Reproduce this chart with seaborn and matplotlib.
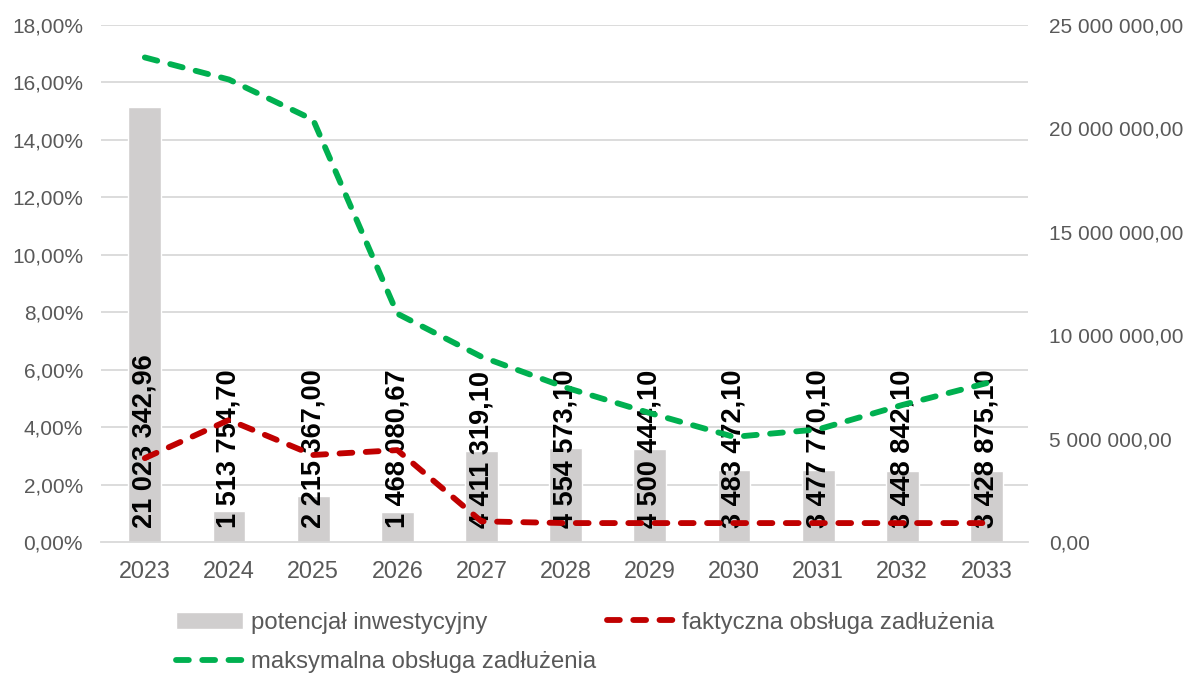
import matplotlib.pyplot as plt
import matplotlib.ticker as mticker
import pandas as pd
import seaborn as sns

years = ["2023", "2024", "2025", "2026", "2027", "2028", "2029", "2030", "2031", "2032", "2033"]
potencjal = [21023342.96, 1513754.70, 2215367.00, 1468080.67, 4411319.10, 4554573.10,
             4500444.10, 3483472.10, 3477770.10, 3448842.10, 3428875.10]
faktyczna = [2.92, 4.25, 3.03, 3.20, 0.72, 0.66, 0.66, 0.66, 0.66, 0.66, 0.66]
maksymalna = [16.87, 16.10, 14.70, 7.95, 6.45, 5.38, 4.49, 3.66, 3.92, 4.77, 5.53]

df = pd.DataFrame({"rok": years, "potencjal": potencjal,
                   "faktyczna": faktyczna, "maksymalna": maksymalna})

sns.set_style("white")
plt.rcParams["font.family"] = ["Liberation Sans", "DejaVu Sans"]

GRAY_TXT = "#595959"
GRID = "#d9d9d9"


def pl_money(v):
    s = f"{v:,.2f}"
    return s.replace(",", " ").replace(".", ",")


fig = plt.figure(figsize=(11.89, 6.75), dpi=100)
ax = fig.add_axes([0.085, 0.197, 0.78, 0.766])

# bars on primary axis (right-hand scale), lines on twin (left-hand scale)
sns.barplot(data=df, x="rok", y="potencjal", color="#d0cece", saturation=1,
            width=0.39, ax=ax, label="potencjał inwestycyjny", zorder=2)
ax.set_ylim(0, 25_000_000)
ax.yaxis.set_major_locator(mticker.MultipleLocator(5_000_000))
ax.yaxis.set_major_formatter(mticker.FuncFormatter(lambda v, p: pl_money(v)))
ax.set_xlabel("")
ax.set_ylabel("")

for i, v in enumerate(df["potencjal"]):
    ax.annotate(pl_money(v), (i, 0), xytext=(0, 10), textcoords="offset points",
                rotation=90, ha="center", va="bottom", fontsize=19.5,
                fontweight="bold", color="black", zorder=3)

ax2 = ax.twinx()
sns.lineplot(data=df, x="rok", y="faktyczna", ax=ax2, color="#c00000", lw=4.2,
             label="faktyczna obsługa zadłużenia", sort=False)
sns.lineplot(data=df, x="rok", y="maksymalna", ax=ax2, color="#00b050", lw=4.2,
             label="maksymalna obsługa zadłużenia", sort=False)
for ln in ax2.lines:
    ln.set_dashes([2.2, 2.3])
    ln.set_dash_capstyle("round")
ax2.set_ylim(0, 18)
ax2.yaxis.set_major_locator(mticker.MultipleLocator(2))
ax2.yaxis.set_major_formatter(
    mticker.FuncFormatter(lambda v, p: f"{v:.2f}%".replace(".", ",")))
ax2.set_ylabel("")
ax2.set_xlabel("")
ax2.get_legend().remove()

# swap sides: percent scale on the left, money scale on the right
ax.yaxis.tick_right()
ax2.yaxis.tick_left()

# grid on left scale
for g in range(2, 19, 2):
    ax.axhline(g / 18 * 25_000_000, color=GRID, lw=1.3, zorder=0)
ax.set_xlim(-0.52, 10.5)

for a in (ax, ax2):
    for s in a.spines.values():
        s.set_visible(False)
    a.tick_params(length=0, labelsize=15, labelcolor=GRAY_TXT)
ax.spines["bottom"].set_visible(True)
ax.spines["bottom"].set_color(GRID)
ax.spines["bottom"].set_linewidth(1.3)
ax.tick_params(axis="x", pad=13, labelsize=16.8)
ax.tick_params(axis="y", pad=15)
ax2.tick_params(axis="y", pad=13)

h1, l1 = ax.get_legend_handles_labels()
h2, l2 = ax2.get_legend_handles_labels()
# column-major fill -> row 1: bars, red line; row 2: green line
handles = [h1[0], h2[1], h2[0]]
labels = [l1[0], l2[1], l2[0]]
leg = fig.legend(handles, labels, ncol=2, loc="upper left",
                 bbox_to_anchor=(0.148, 0.094), frameon=False, fontsize=17.2,
                 borderpad=0, borderaxespad=0,
                 handlelength=2.8, handletextpad=0.35, columnspacing=0.45,
                 labelspacing=0.75, labelcolor=GRAY_TXT)
if ax.get_legend():
    ax.get_legend().remove()

fig.savefig("out.png", dpi=100)
